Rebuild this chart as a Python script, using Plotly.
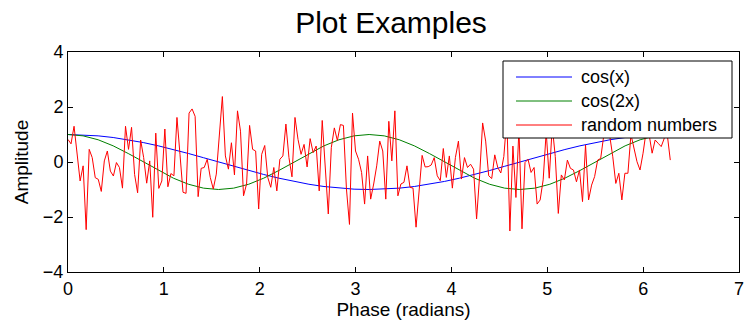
import numpy as np
import plotly.graph_objects as go

# ---- data ----
x_smooth = np.linspace(0, 2 * np.pi, 41)
cos_x = [1.000, 0.988, 0.951, 0.891, 0.809, 0.707, 0.588, 0.454, 0.309, 0.156,
         0.000, -0.156, -0.309, -0.454, -0.588, -0.707, -0.809, -0.891, -0.951, -0.988,
         -1.000, -0.988, -0.951, -0.891, -0.809, -0.707, -0.588, -0.454, -0.309, -0.156,
         0.000, 0.156, 0.309, 0.454, 0.588, 0.707, 0.809, 0.891, 0.951, 0.988, 1.000]
cos_2x = [1.000, 0.951, 0.809, 0.588, 0.309, 0.000, -0.309, -0.588, -0.809, -0.951,
          -1.000, -0.951, -0.809, -0.588, -0.309, 0.000, 0.309, 0.588, 0.809, 0.951,
          1.000, 0.951, 0.809, 0.588, 0.309, 0.000, -0.309, -0.588, -0.809, -0.951,
          -1.000, -0.951, -0.809, -0.588, -0.309, 0.000, 0.309, 0.588, 0.809, 0.951, 1.000]

x_random = np.linspace(0, 2 * np.pi, 200)
random_numbers = [
    0.82, 0.66, 1.30, 0.40, -0.69, -0.14, -2.46, 0.46, 0.16, -0.57,
    -0.63, -1.07, 0.04, 0.40, -0.33, -0.51, -0.02, -0.20, -0.95, 1.30,
    0.46, 1.26, -0.45, -1.12, 0.80, 0.16, -0.77, 0.04, -2.01, 1.05,
    -0.96, -0.69, 1.20, -0.90, -0.42, -0.50, 1.62, 0.28, -1.10, -1.14,
    1.78, 1.93, 1.66, -1.26, -0.23, -0.20, 0.10, -0.56, -0.98, -0.44,
    0.88, 2.38, 0.22, -0.26, 0.70, -0.47, 1.86, 1.12, -1.23, -0.80,
    1.33, 0.46, 0.40, -1.71, 0.28, 0.60, -0.56, -0.92, -0.20, -1.05,
    0.10, 0.22, 1.38, 0.16, -0.54, 1.62, 0.82, 0.28, 0.64, -0.18,
    0.85, 0.34, 0.58, -1.05, 1.51, -0.32, -1.89, 0.52, 1.24, 0.78,
    1.36, 1.33, -0.98, -2.27, 1.78, 0.40, 0.10, -0.38, -1.53, 0.22,
    -1.35, -0.80, -0.14, 0.76, 0.40, -1.35, 1.48, 0.04, 1.86, -1.23,
    -0.80, -0.74, -0.14, -0.92, -0.95, -2.37, -0.92, 0.24, -0.18, -0.17,
    -0.11, 0.16, -0.50, -0.68, 0.49, -0.56, 0.22, -0.95, 0.16, 0.76,
    -0.62, 0.16, -0.20, -0.08, -0.26, -2.07, -0.50, 1.42, 0.76, -0.50,
    -0.60, 0.26, -0.20, -0.40, 0.20, 1.60, -2.51, 0.58, -1.29, 1.20,
    -2.43, -0.02, 0.10, -0.38, -0.20, -1.53, -1.38, -0.65, 1.10, -0.59,
    1.30, 0.20, -1.87, -0.47, -0.65, 0.07, -0.23, -0.29, -0.72, -0.29,
    -1.44, 0.62, -1.38, -0.84, -0.53, 0.07, 0.13, 0.95, 1.05, 0.95,
    0.19, -0.78, -0.41, -1.38, -0.41, -0.41, 1.00, 0.44, 0.01, -0.29,
    0.32, 1.10, 1.00, 0.32, 0.80, 0.68, 0.56, 0.86, 1.00, 0.07,
]

series_names = ["cos(x)", "cos(2x)", "random numbers"]
series_colors = ["#0000ff", "#008000", "#ff0000"]

FONT = "Liberation Sans, Arial, Helvetica, sans-serif"

# plot-area pixel frame (reference): x 68..739, y 52..272
L, R, T, B = 68, 739, 52, 272
W, H = R - L, B - T

fig = go.Figure()
fig.add_trace(go.Scatter(x=x_smooth, y=cos_x, mode="lines", name=series_names[0],
                         line=dict(color=series_colors[0], width=1)))
fig.add_trace(go.Scatter(x=x_smooth, y=cos_2x, mode="lines", name=series_names[1],
                         line=dict(color=series_colors[1], width=1)))
fig.add_trace(go.Scatter(x=x_random, y=random_numbers, mode="lines", name=series_names[2],
                         line=dict(color=series_colors[2], width=1)))

axis_common = dict(showline=True, linecolor="black", linewidth=1, mirror="allticks",
                   ticks="inside", ticklen=5, tickcolor="black", showgrid=False,
                   zeroline=False, ticklabeloverflow="allow", automargin=False,
                   tickfont=dict(family=FONT, size=18, color="black"))

fig.update_layout(
    width=744, height=328, autosize=False,
    margin=dict(l=L, r=744 - R, t=T, b=328 - B, pad=0),
    paper_bgcolor="white", plot_bgcolor="white",
    showlegend=False,
    font=dict(family=FONT, color="black"),
    title=dict(text="Plot Examples", font=dict(family=FONT, size=30, color="black"),
               x=391 / 744, xanchor="center", xref="container",
               y=1 - 22 / 328, yanchor="middle", yref="container"),
    xaxis=dict(range=[0, 7], dtick=1, tick0=0,
               title=dict(text="Phase (radians)", font=dict(family=FONT, size=19), standoff=4),
               **axis_common),
    yaxis=dict(range=[-4, 4], dtick=2, tick0=-4,
               title=dict(text="Amplitude", font=dict(family=FONT, size=19), standoff=9),
               **axis_common),
)

# manual MATLAB-style legend box
def px_x(p):
    return (p - L) / W

def px_y(p):
    return (B - p) / H

fig.add_shape(type="rect", xref="paper", yref="paper",
              x0=px_x(503), x1=px_x(732), y0=px_y(138), y1=px_y(61),
              line=dict(color="black", width=1), fillcolor="white", layer="above")
row_y = [px_y(77), px_y(101), px_y(125)]
for name, color, ry in zip(series_names, series_colors, row_y):
    fig.add_shape(type="line", xref="paper", yref="paper", x0=px_x(516), x1=px_x(572),
                  y0=ry, y1=ry, line=dict(color=color, width=1), layer="above")
    fig.add_annotation(xref="paper", yref="paper", x=px_x(579), y=ry, text=name,
                       showarrow=False, xanchor="left", yanchor="middle",
                       font=dict(family=FONT, size=18, color="black"))

fig.write_html("out.html")
